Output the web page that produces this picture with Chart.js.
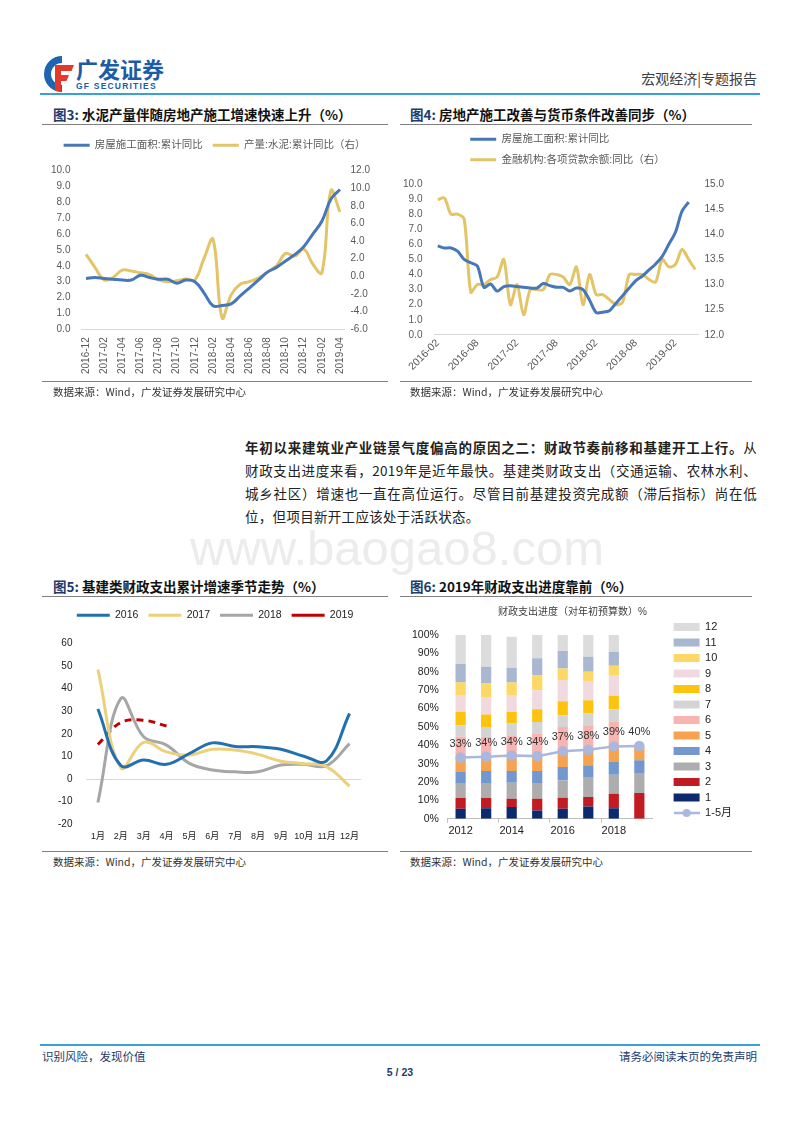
<!DOCTYPE html>
<html>
<head>
<meta charset="utf-8">
<script src="https://cdn.jsdelivr.net/npm/chart.js@4.4.0/dist/chart.umd.min.js"></script>
<style>
  body { margin: 0; width: 800px; height: 1132px; position: relative; background: #fff; overflow: hidden;
         font-family: 'Liberation Sans', 'Noto Sans CJK SC', sans-serif; }
  .abs { position: absolute; }
  .cjk { font-family: 'Noto Sans CJK SC', sans-serif; }
  .figtitle { position: absolute; font-family: 'Noto Sans CJK SC', sans-serif; font-weight: 700; font-size: 13.5px;
              color: #111; border-bottom: 1px solid #808080; height: 20px; line-height: 18px; box-sizing: border-box; white-space: nowrap; }
  .figtitle span { color: #1d3b6b; }
  .source { position: absolute; font-family: 'Noto Sans CJK SC', sans-serif; font-size: 10.5px; color: #333;
            border-top: 1px solid #808080; padding-top: 3px; line-height: 14px; }
  .para { position: absolute; left: 245px; width: 512px; font-family: 'Noto Sans CJK SC', sans-serif; font-size: 13.5px;
          letter-spacing: 0.3px; color: #222; line-height: 18px; text-align: justify; text-align-last: justify; white-space: nowrap; }
  canvas { position: absolute; }
</style>
</head>
<body>

<!-- header -->
<svg class="abs" style="left:40px;top:54px" width="36" height="40" viewBox="0 0 36 40">
  <path d="M22 2 A18 18 0 1 0 22 38 L22 31 A11 11 0 1 1 22 9 Z" fill="#1f64b0"/>
  <path d="M15 11 H34 L31.5 17 H21 V21 H29 L26.5 27 H21 V37 H15 Z" fill="#e2392c"/>
</svg>
<div class="abs cjk" style="left:76px;top:55px;font-size:22px;font-weight:700;color:#1e5ba6;line-height:26px;">广发证券</div>
<div class="abs" style="left:76px;top:81px;font-size:8.5px;font-weight:700;color:#1e5ba6;letter-spacing:1.2px;line-height:10px;">GF SECURITIES</div>
<div class="abs cjk" style="right:43px;top:69px;font-size:14px;color:#404040;line-height:18px;">宏观经济|专题报告</div>
<div class="abs" style="left:40px;top:93px;width:720px;height:2px;background:#3aa0d8;"></div>

<!-- figure titles row 1 -->
<div class="figtitle" style="left:42px;top:105px;width:346px;padding-left:11px;"><span>图3:</span> 水泥产量伴随房地产施工增速快速上升（%）</div>
<div class="figtitle" style="left:400px;top:105px;width:352px;padding-left:10px;"><span>图4:</span> 房地产施工改善与货币条件改善同步（%）</div>

<canvas id="c3" width="350" height="252" style="left:40px;top:130px"></canvas>
<canvas id="c4" width="353" height="251" style="left:391px;top:124px"></canvas>

<div class="source" style="left:42px;top:381px;width:335px;padding-left:11px;">数据来源：Wind，广发证券发展研究中心</div>
<div class="source" style="left:400px;top:381px;width:342px;padding-left:10px;">数据来源：Wind，广发证券发展研究中心</div>

<!-- paragraph -->
<div class="para" style="top:438px;"><b>年初以来建筑业产业链景气度偏高的原因之二：财政节奏前移和基建开工上行。</b>从</div>
<div class="para" style="top:461px;">财政支出进度来看，2019年是近年最快。基建类财政支出（交通运输、农林水利、</div>
<div class="para" style="top:484px;">城乡社区）增速也一直在高位运行。尽管目前基建投资完成额（滞后指标）尚在低</div>
<div class="para" style="top:507px;text-align-last:left;">位，但项目新开工应该处于活跃状态。</div>

<div class="abs" style="left:190px;top:520px;font-size:49px;color:#ececec;line-height:56px;">www.baogao8.com</div>

<!-- figure titles row 2 -->
<div class="figtitle" style="left:42px;top:577px;width:346px;padding-left:11px;"><span>图5:</span> 基建类财政支出累计增速季节走势（%）</div>
<div class="figtitle" style="left:400px;top:577px;width:352px;padding-left:10px;"><span>图6:</span> 2019年财政支出进度靠前（%）</div>

<canvas id="c5" width="350" height="250" style="left:40px;top:600px"></canvas>
<canvas id="c6" width="360" height="250" style="left:400px;top:600px"></canvas>

<div class="source" style="left:42px;top:851px;width:335px;padding-left:11px;">数据来源：Wind，广发证券发展研究中心</div>
<div class="source" style="left:400px;top:851px;width:342px;padding-left:10px;">数据来源：Wind，广发证券发展研究中心</div>

<!-- footer -->
<div class="abs" style="left:40px;top:1044px;width:720px;height:2px;background:#3aa0d8;"></div>
<div class="abs cjk" style="left:42px;top:1049px;font-size:11.5px;color:#1d3b6b;line-height:15px;">识别风险，发现价值</div>
<div class="abs cjk" style="right:43px;top:1049px;font-size:11.5px;color:#1d3b6b;line-height:15px;">请务必阅读末页的免责声明</div>
<div class="abs" style="left:0;width:800px;top:1066px;text-align:center;font-size:10.5px;font-weight:700;color:#1d3b6b;">5 / 23</div>

<script>
// ---- 图3 data ----
const fig3Months = ['2016-12','2017-01','2017-02','2017-03','2017-04','2017-05','2017-06','2017-07','2017-08','2017-09','2017-10','2017-11','2017-12',
  '2018-01','2018-02','2018-03','2018-04','2018-05','2018-06','2018-07','2018-08','2018-09','2018-10','2018-11','2018-12',
  '2019-01','2019-02','2019-03','2019-04'];
const fig3Area = [3.2, 3.26, 3.2, 3.15, 3.1, 3.1, 3.4, 3.26, 3.15, 3.15, 2.9, 3.1, 3.0, 2.3, 1.48, 1.5, 1.6, 2.1, 2.6, 3.1, 3.6, 3.9, 4.3, 4.7, 5.2, 6.0, 6.8, 8.2, 8.8];
const fig3Cement = [2.5, 1.0, -0.4, -0.1, 0.7, 0.6, 0.4, 0.2, -0.4, -0.6, -0.5, -0.3, -0.4, 2.0, 4.2, -4.7, -2.1, -0.9, -0.6, -0.2, 0.5, 1.2, 2.6, 2.3, 3.1, 1.4, 0.4, 9.7, 7.3];

// ---- 图4 data ----
const fig4Months = ['2016-02','2016-03','2016-04','2016-05','2016-06','2016-07','2016-08','2016-09','2016-10','2016-11','2016-12',
  '2017-01','2017-02','2017-03','2017-04','2017-05','2017-06','2017-07','2017-08','2017-09','2017-10','2017-11','2017-12',
  '2018-01','2018-02','2018-03','2018-04','2018-05','2018-06','2018-07','2018-08','2018-09','2018-10','2018-11','2018-12',
  '2019-01','2019-02','2019-03','2019-04','2019-05'];
const fig4Area = [5.9, 5.76, 5.76, 5.55, 5.0, 4.78, 4.56, 3.15, 3.37, 2.9, 3.2, 3.26, 3.2, 3.15, 3.1, 3.1, 3.4, 3.26, 3.15, 3.15,
  2.9, 3.1, 3.0, 2.3, 1.48, 1.5, 1.6, 2.1, 2.6, 3.1, 3.6, 3.9, 4.3, 4.7, 5.2, 6.0, 6.8, 8.2, 8.8, null];
const fig4Loans = [14.69, 14.72, 14.4, 14.4, 14.3, 12.85, 13.0, 13.0, 13.1, 13.15, 13.5, 12.6, 13.0, 12.4, 12.9, 12.9, 12.9, 13.2, 13.2, 13.15,
  13.0, 13.35, 12.6, 13.2, 12.8, 12.8, 12.7, 12.6, 12.65, 13.2, 13.2, 13.2, 13.1, 13.05, 13.5, 13.35, 13.4, 13.7, 13.5, 13.3];

// ---- 图5 data ----
const fig5Months = ['1月','2月','3月','4月','5月','6月','7月','8月','9月','10月','11月','12月'];
const y2016 = [31, 6, 8.4, 6.5, 11.3, 16, 14.4, 14.3, 13.2, 10.1, 8.1, 29];
const y2017 = [48.5, 5, 16.2, 12, 10.6, 13.2, 12.8, 10.9, 7.9, 6.8, 5.4, -3.1];
const y2018 = [-10.4, 35.6, 18.7, 15, 6.9, 4, 3.2, 3.2, 6.2, 6.5, 5.9, 15.7];
const y2019 = [15.3, 25, 26, 23.5];

// ---- 图6 data (share of annual budget spent in each month, %) ----
const fig6Years = ['2012','2013','2014','2015','2016','2017','2018','2019'];
const month1  = [5.5, 5.8, 6.4, 4.5, 5.5, 6.7, 5.8, null];
const month2  = [5.8, 5.5, 4.5, 6.4, 6.0, 5.1, 7.8, 14.0];
const month3  = [7.8, 7.8, 8.7, 8.2, 9.4, 10.6, 10.4, 10.9];
const month4  = [6.4, 6.9, 6.4, 6.9, 7.3, 6.7, 6.9, 6.9];
const month5  = [7.5, 7.6, 8.0, 7.6, 8.6, 8.2, 7.6, 7.6];
const month6  = [11.6, 10.9, 11.0, 12.8, 13.2, 13.6, 14.5, null];
const month7  = [6.3, 5.5, 6.8, 6.3, 6.4, 6.4, 6.6, null];
const month8  = [7.3, 6.7, 6.4, 6.9, 7.6, 7.2, 7.3, null];
const month9  = [9.1, 9.6, 9.1, 10.4, 11.5, 10.0, 11.3, null];
const month10 = [6.9, 7.3, 6.9, 8.2, 6.3, 5.5, 5.1, null];
const month11 = [10.0, 9.1, 8.0, 9.1, 9.5, 8.2, 7.6, null];
const month12 = [15.8, 17.3, 16.9, 12.7, 8.7, 11.8, 9.1, null];
const ytdJanMay = [33.3, 33.8, 34.4, 34.1, 36.7, 37.6, 39.4, 39.6];

const blue = '#4677b8';
const gold = '#e3c466';
const tickGrey = '#595959';

Chart.defaults.font.family = "'Liberation Sans', 'Noto Sans CJK SC', sans-serif";
Chart.defaults.color = tickGrey;
Chart.defaults.animation = false;
Chart.defaults.responsive = false;
Chart.defaults.plugins.tooltip.enabled = false;

const noGrid = { display: false, drawTicks: false };
const noBorder = { display: false };
// empty title used as a gap between the legend and the plot
const gapBelowLegend = h => ({ display: true, text: '', weight: 500, padding: 0, font: { size: h, lineHeight: 1 } });

// keep wrapped legend rows on a common left start
const evenRows = {
  id: 'evenRows',
  beforeDraw(chart) {
    const lg = chart.legend;
    if (lg && lg.lineWidths && lg.lineWidths.length > 1) {
      const m = Math.max(...lg.lineWidths);
      lg.lineWidths = lg.lineWidths.map(() => m);
    }
  }
};

// 图3
new Chart(document.getElementById('c3'), {
  type: 'line',
  data: {
    labels: fig3Months,
    datasets: [
      { label: '房屋施工面积:累计同比', data: fig3Area, borderColor: blue, backgroundColor: blue, borderWidth: 3, pointRadius: 0, tension: 0.4, yAxisID: 'y' },
      { label: '产量:水泥:累计同比（右）', data: fig3Cement, borderColor: gold, backgroundColor: gold, borderWidth: 3, pointRadius: 0, tension: 0.4, yAxisID: 'y1' }
    ]
  },
  options: {
    layout: { padding: { left: 0, right: 1, top: 0, bottom: 0 } },
    plugins: {
      title: gapBelowLegend(10),
      legend: { labels: { usePointStyle: true, pointStyle: 'line', pointStyleWidth: 26, font: { size: 10.5 }, color: tickGrey, padding: 10 } }
    },
    scales: {
      x: {
        offset: true, grid: noGrid, border: { display: true, color: '#d9d9d9' },
        ticks: { autoSkip: false, minRotation: 90, maxRotation: 90, font: { size: 10 }, padding: 8,
                 callback: (v, i) => i % 2 === 0 ? fig3Months[i] : '' }
      },
      y: { position: 'left', min: 0, max: 10, grid: noGrid, border: noBorder,
           ticks: { stepSize: 1, font: { size: 10 }, padding: 11, callback: v => v.toFixed(1) } },
      y1: { position: 'right', min: -6, max: 12, grid: noGrid, border: noBorder,
            ticks: { stepSize: 2, font: { size: 10 }, padding: 6, callback: v => v.toFixed(1) },
            afterFit: s => { s.width += 13; } }
    }
  }
});

// 图4
new Chart(document.getElementById('c4'), {
  type: 'line',
  data: {
    labels: fig4Months,
    datasets: [
      { label: '房屋施工面积:累计同比', data: fig4Area, borderColor: blue, backgroundColor: blue, borderWidth: 3, pointRadius: 0, tension: 0.3, yAxisID: 'y' },
      { label: '金融机构:各项贷款余额:同比（右）', data: fig4Loans, borderColor: gold, backgroundColor: gold, borderWidth: 3, pointRadius: 0, tension: 0.3, yAxisID: 'y1' }
    ]
  },
  options: {
    layout: { padding: { left: 0, right: 0, top: 0, bottom: 0 } },
    plugins: {
      title: gapBelowLegend(9),
      legend: { labels: { usePointStyle: true, pointStyle: 'line', pointStyleWidth: 26, font: { size: 10.5 }, color: tickGrey, padding: 10 } }
    },
    scales: {
      x: {
        offset: true, grid: noGrid, border: { display: true, color: '#d9d9d9' },
        ticks: { autoSkip: false, minRotation: 45, maxRotation: 45, font: { size: 10.5 }, padding: 2,
                 callback: (v, i) => i % 6 === 0 ? fig4Months[i] : '' }
      },
      y: { position: 'left', min: 0, max: 10, grid: noGrid, border: noBorder,
           ticks: { stepSize: 1, font: { size: 10 }, padding: 12, callback: v => v.toFixed(1) } },
      y1: { position: 'right', min: 12, max: 15, grid: noGrid, border: noBorder,
            ticks: { stepSize: 0.5, font: { size: 10 }, padding: 6, callback: v => v.toFixed(1) },
            afterFit: s => { s.width += 14; } }
    }
  },
  plugins: [evenRows]
});

// 图5
new Chart(document.getElementById('c5'), {
  type: 'line',
  data: {
    labels: fig5Months,
    datasets: [
      { label: '2016', data: y2016, borderColor: '#2370b0', backgroundColor: '#2370b0', borderWidth: 3, pointRadius: 0, tension: 0.4 },
      { label: '2017', data: y2017, borderColor: '#ecd07a', backgroundColor: '#ecd07a', borderWidth: 3, pointRadius: 0, tension: 0.4 },
      { label: '2018', data: y2018, borderColor: '#a6a6a6', backgroundColor: '#a6a6a6', borderWidth: 3, pointRadius: 0, tension: 0.4 },
      { label: '2019', data: y2019, borderColor: '#c00000', backgroundColor: '#c00000', borderWidth: 3, borderDash: [7, 5], pointRadius: 0, tension: 0.4 }
    ]
  },
  options: {
    layout: { padding: { left: 4, right: 4, top: 0, bottom: 1 } },
    plugins: {
      title: gapBelowLegend(13),
      legend: { labels: { usePointStyle: true, pointStyle: 'line', pointStyleWidth: 33, font: { size: 10.5 }, color: '#222', padding: 10 } }
    },
    scales: {
      x: { offset: true, grid: noGrid, border: noBorder,
           ticks: { autoSkip: false, maxRotation: 0, minRotation: 0, font: { size: 9 }, color: '#222', padding: 7 } },
      y: { min: -20, max: 60, border: noBorder,
           grid: { drawTicks: false, color: c => c.tick && c.tick.value === 0 ? '#d9d9d9' : 'rgba(0,0,0,0)' },
           ticks: { stepSize: 10, font: { size: 10 }, color: '#222', padding: 14 } },
      gap: { type: 'linear', position: 'right', display: true, grid: noGrid, border: noBorder, ticks: { display: false },
             afterFit: s => { s.width = 25; } }
    }
  }
});

// 图6
const lineSwatch = document.createElement('canvas');
lineSwatch.width = 26; lineSwatch.height = 10;
(function () {
  const g = lineSwatch.getContext('2d');
  g.strokeStyle = '#aab7de'; g.lineWidth = 2.5;
  g.beginPath(); g.moveTo(0, 5); g.lineTo(26, 5); g.stroke();
  g.fillStyle = '#aab7de'; g.beginPath(); g.arc(13, 5, 4, 0, Math.PI * 2); g.fill();
})();

const pctLabels = {
  id: 'pctLabels',
  afterDatasetsDraw(chart) {
    const meta = chart.getDatasetMeta(0);
    const ctx = chart.ctx;
    ctx.save();
    ctx.font = "11px 'Liberation Sans'";
    ctx.fillStyle = '#333';
    ctx.textAlign = 'center';
    ctx.textBaseline = 'middle';
    meta.data.forEach((pt, i) => ctx.fillText(Math.round(ytdJanMay[i]) + '%', pt.x, pt.y - 14));
    ctx.restore();
  }
};

const monthColours = ['#0b2a6f', '#c21b22', '#adadad', '#7398d0', '#f7a24f', '#f8b4b0', '#d4d4d4', '#fdc40f', '#f1dadf', '#fdd865', '#a9b7d0', '#dcdcdc'];
const monthSeries = [month1, month2, month3, month4, month5, month6, month7, month8, month9, month10, month11, month12];

new Chart(document.getElementById('c6'), {
  type: 'bar',
  data: {
    labels: fig6Years,
    datasets: [
      { type: 'line', label: '1-5月', data: ytdJanMay, stack: 'ytd', borderColor: '#aab7de', backgroundColor: '#aab7de',
        borderWidth: 2.5, pointRadius: 4, pointBackgroundColor: '#aab7de', tension: 0 }
    ].concat(monthSeries.map((d, k) => ({
      label: String(k + 1), data: d, stack: 'm', backgroundColor: monthColours[k], borderWidth: 0,
      barPercentage: 0.8, categoryPercentage: 0.5
    })))
  },
  options: {
    layout: { padding: { left: 3, right: 18, top: 0, bottom: 10 } },
    plugins: {
      title: { display: true, text: '财政支出进度（对年初预算数）%', font: { size: 10, weight: 'normal' }, color: '#404040', padding: { top: 6, bottom: 17 } },
      legend: {
        position: 'right', reverse: true, maxWidth: 120,
        labels: {
          usePointStyle: true, pointStyleWidth: 26, boxHeight: 8, font: { size: 11 }, color: '#222', padding: 4.5,
          generateLabels(chart) {
            const items = Chart.defaults.plugins.legend.labels.generateLabels(chart);
            items.forEach(it => {
              if (it.datasetIndex === 0) { it.pointStyle = lineSwatch; }
              else { it.pointStyle = 'rect'; it.lineWidth = 0; it.strokeStyle = it.fillStyle; }
            });
            return items;
          }
        }
      }
    },
    scales: {
      x: { stacked: true, offset: true, border: { display: true, color: '#bfbfbf' },
           grid: { offset: true, drawOnChartArea: false, tickLength: 4, color: c => c.index % 2 === 0 ? '#bfbfbf' : 'rgba(0,0,0,0)' },
           ticks: { autoSkip: false, maxRotation: 0, font: { size: 11 }, color: '#222', padding: 2,
                    callback: (v, i) => i % 2 === 0 ? fig6Years[i] : '' } },
      y: { stacked: true, min: 0, max: 100, grid: noGrid, border: noBorder,
           ticks: { stepSize: 10, font: { size: 10.5 }, color: '#222', padding: 9, callback: v => v + '%' } },
      gap: { type: 'linear', position: 'right', display: true, grid: noGrid, border: noBorder, ticks: { display: false },
             afterFit: s => { s.width = 17; } }
    }
  },
  plugins: [pctLabels]
});
</script>
</body>
</html>
